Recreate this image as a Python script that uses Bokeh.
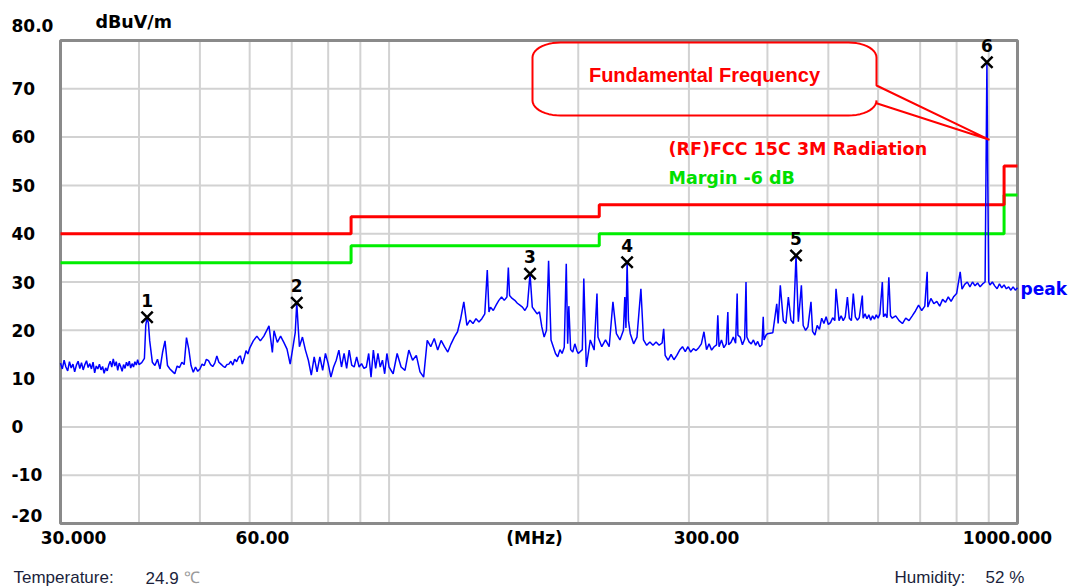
import numpy as np
from bokeh.plotting import figure
from bokeh.models import Label
from bokeh.embed import file_html
from bokeh.resources import INLINE

# ---------------- data (MHz, dBuV/m) ----------------
scan_30_40 = [
    (30.0, 13.2), (30.2, 12.0), (30.4, 13.8), (30.6, 12.4), (30.8, 11.6), (31.0, 13.5),
    (31.2, 12.2), (31.4, 13.0), (31.6, 11.4), (31.8, 12.8), (32.0, 13.6), (32.2, 12.1),
    (32.4, 13.3), (32.6, 11.8), (32.8, 12.9), (33.0, 13.7), (33.2, 12.3), (33.4, 13.1),
    (33.6, 12.0), (33.8, 13.4), (34.0, 11.2), (34.2, 12.6), (34.4, 12.0), (34.6, 13.0),
    (34.8, 11.8), (35.0, 12.5), (35.2, 11.1), (35.4, 12.2), (35.6, 11.6), (35.8, 12.8),
    (36.0, 13.6), (36.2, 12.4), (36.4, 14.1), (36.6, 12.6), (36.8, 13.5), (37.0, 11.7),
    (37.2, 13.2), (37.4, 12.5), (37.6, 11.5), (37.8, 12.9), (38.0, 12.1), (38.2, 13.4),
    (38.4, 12.6), (38.6, 13.6), (38.8, 12.2), (39.0, 13.1), (39.2, 12.4), (39.4, 13.5),
    (39.6, 12.8), (39.8, 13.9), (40.0, 12.9),
]
scan_40_60 = [
    (40.4, 13.3), (40.8, 14.2), (41.0, 21.0), (41.2, 22.7), (41.4, 21.5), (41.6, 17.8),
    (42.0, 13.4), (42.4, 12.7), (42.8, 14.0), (43.2, 12.0), (43.6, 15.4), (44.0, 17.8),
    (44.4, 12.7), (44.8, 12.0), (45.2, 11.5), (45.6, 11.0), (46.0, 12.6), (46.4, 12.3),
    (46.8, 13.4), (47.2, 12.9), (47.6, 18.5), (48.0, 16.1), (48.4, 12.7), (48.8, 11.3),
    (49.2, 12.4), (49.6, 11.5), (50.0, 12.0), (50.4, 13.0), (50.8, 12.7), (51.2, 14.0),
    (51.6, 13.7), (52.0, 12.9), (52.4, 12.5), (52.8, 13.2), (53.2, 14.7), (53.6, 13.4),
    (54.0, 13.0), (54.4, 12.6), (54.8, 12.3), (55.2, 12.9), (55.6, 13.0), (56.0, 13.6),
    (56.4, 12.8), (56.8, 14.0), (57.2, 13.5), (57.6, 14.4), (58.0, 14.7), (58.4, 13.0),
    (58.8, 14.2), (59.2, 15.8), (59.6, 15.1), (60.0, 16.3),
]
scan_60_100 = [
    (60.8, 17.8), (61.6, 18.8), (62.4, 17.8), (63.2, 18.8), (64.0, 20.2), (64.4, 20.9),
    (64.8, 18.2), (65.2, 15.4), (65.6, 19.9), (66.4, 17.5), (67.2, 18.8), (68.0, 17.5),
    (68.8, 16.1), (69.6, 13.0), (70.4, 17.0), (70.9, 19.5), (71.3, 25.7), (71.7, 20.3),
    (72.0, 16.6), (72.8, 18.6), (73.6, 15.9), (74.4, 13.8), (75.2, 10.7), (76.0, 14.5),
    (76.8, 11.4), (77.6, 14.5), (78.4, 11.7), (79.2, 15.2), (80.0, 13.1), (80.8, 10.3),
    (81.6, 12.4), (82.4, 13.8), (83.2, 15.9), (84.0, 12.4), (84.8, 15.2), (85.6, 12.1),
    (86.4, 15.9), (87.2, 12.8), (88.0, 12.4), (88.8, 14.5), (89.6, 12.4), (90.4, 13.1),
    (91.2, 12.1), (92.0, 12.4), (92.8, 15.2), (93.6, 10.3), (94.4, 15.9), (95.2, 12.1),
    (96.0, 15.2), (96.8, 12.4), (97.6, 13.8), (98.4, 11.0), (99.2, 15.2), (100.0, 12.4),
]
scan_100_200 = [
    (101.5, 11.0), (103.0, 15.2), (104.5, 12.4), (106.0, 11.7), (107.5, 15.9), (109.0, 13.8),
    (110.5, 14.8), (112.0, 11.4), (113.5, 10.3), (115.0, 17.9), (116.5, 16.6), (118.0, 18.3),
    (119.5, 15.9), (121.0, 17.9), (122.5, 16.6), (124.0, 15.5), (125.5, 17.2), (127.0, 18.6),
    (128.5, 19.7), (130.0, 22.4), (131.5, 25.9), (133.0, 21.0), (134.5, 22.1), (136.0, 21.4),
    (137.5, 22.4), (139.0, 21.7), (140.5, 22.4), (142.0, 23.4), (143.3, 32.5), (144.2, 23.8),
    (145.0, 24.8), (146.5, 24.1), (148.0, 25.2), (149.5, 26.2), (151.0, 26.9), (152.5, 26.2),
    (154.0, 26.9), (154.8, 33.0), (155.5, 27.2), (157.0, 26.6), (158.5, 26.2), (160.0, 25.6),
    (161.5, 25.2), (163.0, 24.8), (164.5, 24.1), (166.0, 25.0), (167.6, 31.7), (169.0, 24.8),
    (170.5, 24.1), (172.0, 23.4), (173.5, 23.8), (175.0, 20.7), (176.5, 18.6), (178.0, 20.0),
    (179.4, 34.4), (181.0, 18.0), (182.5, 16.6), (184.0, 15.2), (185.5, 14.5), (187.0, 16.0),
    (188.5, 15.2), (190.0, 16.5), (191.4, 33.8), (192.4, 17.2), (193.2, 25.0), (194.5, 16.0),
    (196.0, 15.5), (197.5, 17.2), (199.0, 15.8), (200.0, 15.2),
]
scan_200_400 = [
    (203, 16.0), (204.1, 30.7), (206, 12.4), (209, 18.0), (212, 15.9), (214.2, 27.6),
    (215, 18.6), (218, 16.6), (221, 18.0), (224, 16.6), (227.1, 25.9), (230, 19.3),
    (233, 18.0), (236, 20.0), (237.2, 26.9), (238.2, 20.5), (239.2, 34.1), (240.4, 22.0),
    (242, 19.3), (245, 17.2), (248, 18.6), (251.6, 28.6), (254, 18.0), (257, 16.9),
    (260, 17.6), (263, 16.9), (266, 17.6), (269, 16.9), (272, 17.4), (273.5, 20.3),
    (275, 14.8), (278, 13.8), (281, 15.0), (284, 13.9), (287, 14.8), (290, 15.9),
    (293, 16.6), (296, 15.6), (299, 16.6), (302, 15.5), (305, 16.2), (308, 15.8),
    (311, 16.4), (314, 17.2), (317, 19.7), (320, 16.0), (323, 17.2), (326, 15.9),
    (329, 16.6), (332, 17.0), (333.5, 23.1), (335, 16.6), (338, 18.0), (341, 16.4),
    (344, 17.2), (346, 23.8), (347, 17.0), (350, 17.5), (353, 18.6), (356, 17.3),
    (358, 27.6), (359, 19.0), (362, 18.6), (365, 17.0), (368, 18.2), (369.8, 30.0),
    (371, 18.6), (374, 17.6), (377, 17.2), (380, 18.0), (383, 16.9), (386, 17.7),
    (389, 16.6), (392, 17.0), (393.9, 22.8), (395, 18.0), (398, 19.0), (400, 19.3),
]
scan_400_1000 = [
    (408, 19.5), (413.9, 25.5), (416, 21.4), (419.3, 29.3), (424, 22.0), (428, 21.4),
    (431.9, 26.9), (436, 22.1), (440, 21.4), (444.2, 35.5), (448, 21.8), (453, 29.3),
    (456, 21.0), (460, 20.0), (464, 20.7), (469.2, 25.9), (472, 19.8), (476, 19.0),
    (480, 21.0), (484, 20.2), (488, 22.5), (492, 21.4), (496, 22.8), (500, 21.2),
    (504, 21.6), (508, 22.6), (512, 22.0), (514.3, 28.6), (520, 22.0), (524, 23.0),
    (528, 22.0), (532, 22.8), (536.2, 26.9), (540, 22.5), (544, 22.0), (547.9, 27.6),
    (552, 22.8), (556, 22.1), (560, 22.6), (566.3, 27.2), (568, 22.5), (572, 23.4),
    (576, 22.4), (580, 23.2), (584, 22.1), (588, 23.0), (592, 22.3), (596, 23.2),
    (600, 22.5), (604, 23.4), (609.4, 30.0), (612, 22.8), (616, 23.4), (620, 22.6),
    (624.1, 31.0), (628, 23.0), (632, 22.5), (640, 23.0), (648, 22.0), (656, 21.4),
    (664, 22.5), (672, 22.0), (680, 23.0), (688, 24.0), (696, 25.2), (704, 24.1),
    (712, 25.0), (718.2, 32.1), (720, 24.8), (728, 26.6), (736, 25.5), (744, 26.0),
    (752, 25.0), (760, 26.4), (768, 25.8), (776, 26.9), (784, 26.0), (792, 27.0),
    (800, 27.6), (810.6, 32.1), (816, 28.5), (824, 29.5), (832, 30.0), (840, 29.0),
    (848, 30.0), (856, 29.2), (864, 29.8), (872, 29.0), (880, 29.6), (888, 30.0),
    (894.0, 75.5), (896.6, 52.4), (900, 30.0), (904, 29.4), (912, 30.0), (920, 29.2),
    (928, 28.6), (936, 29.6), (944, 28.8), (952, 29.4), (960, 28.6), (968, 29.0),
    (976, 28.3), (984, 29.0), (992, 28.3), (1000, 28.8),
]
limit_mhz = [30, 87, 216, 952, 1000]
limit_dbuv = [40, 43.5, 46, 54, 54]
margin_dbuv = [34, 37.5, 40, 48, 48]
marker_mhz = [41.2, 71.3, 167.6, 239.2, 444.2, 894.0]
marker_dbuv = [22.7, 25.7, 31.7, 34.1, 35.5, 75.5]
marker_ids = ["1", "2", "3", "4", "5", "6"]
y_tick_labels = ["80.0", "70", "60", "50", "40", "30", "20", "10", "0", "-10", "-20"]
x_tick_labels = ["30.000", "60.00", "(MHz)", "300.00", "1000.000"]
x_grid_mhz = [40, 50, 60, 70, 80, 90, 100, 200, 300, 400, 500, 600, 700, 800, 900]
y_grid_dbuv = [-10, 0, 10, 20, 30, 40, 50, 60, 70]

scan = scan_30_40 + scan_40_60 + scan_60_100 + scan_100_200 + scan_200_400 + scan_400_1000
trace_mhz = [f for f, _ in scan]
trace_dbuv = [v for _, v in scan]

# ---------------- layout (canvas pixels) ----------------
X0, X1 = 30, 1000          # chart box, MHz
Y0, Y1 = -20, 80           # chart box, dBuV/m
W, H = 1068, 588
FL, FT, FR, FB = 60, 40, 1017, 523   # chart box edges in pixels


def fx(px):
    return X0 * (X1 / X0) ** ((px - FL) / (FR - FL))


def fy(py):
    return Y1 - (py - FT) * (Y1 - Y0) / (FB - FT)


# the whole canvas is the frame, so every text stays inside it
p = figure(width=W, height=H, x_axis_type="log", x_range=(fx(0), fx(W)),
           y_range=(fy(H), fy(0)), output_backend="svg", toolbar_location=None,
           title=None, min_border=0)
p.xaxis.visible = False
p.yaxis.visible = False
p.grid.visible = False
p.outline_line_color = None
p.background_fill_color = "white"
p.border_fill_color = "white"

# grid inside the chart box
GRID = "#d2d2d2"
p.segment(x0=x_grid_mhz, y0=[Y0] * len(x_grid_mhz), x1=x_grid_mhz, y1=[Y1] * len(x_grid_mhz),
          line_color=GRID, line_width=2)
p.segment(x0=[X0] * len(y_grid_dbuv), y0=y_grid_dbuv, x1=[X1] * len(y_grid_dbuv), y1=y_grid_dbuv,
          line_color=GRID, line_width=2)
p.quad(left=[X0], right=[X1], bottom=[Y0], top=[Y1], fill_color=None,
       line_color="#8a8a8a", line_width=3)

p.step(limit_mhz, margin_dbuv, mode="after", line_color="#00ee00", line_width=3)
p.step(limit_mhz, limit_dbuv, mode="after", line_color="#ff0000", line_width=3)
p.line(trace_mhz, trace_dbuv, line_color="#0000ff", line_width=1.5)
p.scatter(marker_mhz, marker_dbuv, marker="x", size=16, line_color="black", line_width=2.5)

BOLD = "DejaVu Sans"


def lab(px, py, text, size="17px", color="black", align="left", style="bold", font=BOLD):
    p.add_layout(Label(x=fx(px), y=fy(py), text=text, text_font=font, text_font_size=size,
                       text_font_style=style, text_color=color, text_align=align,
                       text_baseline="middle"))


# marker numbers
dy = 17 * (Y1 - Y0) / (FB - FT)
for m, v, t in zip(marker_mhz, marker_dbuv, marker_ids):
    p.add_layout(Label(x=m, y=v + dy, text=t, text_font=BOLD, text_font_size="17px",
                       text_font_style="bold", text_color="black", text_align="center",
                       text_baseline="middle"))

# y tick labels
y_label_py = [25, 88, 136, 185, 233, 282, 330, 378, 426, 474, 515]
for py, t in zip(y_label_py, y_tick_labels):
    lab(11, py, t)
lab(95, 21, "dBuV/m", size="17.5px")

# x tick labels
x_label_px = [73, 262, 534, 706, 1007]
for px, t in zip(x_label_px, x_tick_labels):
    lab(px, 537, t, align="center")

# legend-like texts
lab(668, 148, "(RF)FCC 15C 3M Radiation", size="17.5px", color="#ff0000")
lab(668, 177, "Margin -6 dB", size="17.5px", color="#00e000")
lab(1020, 288, "peak", color="#0000ff")

# callout
lab(704, 74, "Fundamental Frequency", size="20px", color="#ff0000", align="center",
    font="Liberation Sans")
BX0, BX1, BY0, BY1, RX, RY = 532, 876, 42, 115, 28, 15
TAIL_A, TAIL_B, TIP = 85, 102.7, (989, 139.3)


def arc(cx, cy, a0, a1):
    t = np.radians(np.linspace(a0, a1, 12))
    return list(cx + RX * np.cos(t)), list(cy - RY * np.sin(t))


sx, sy = [TIP[0], BX1], [TIP[1], TAIL_A]
for cx, cy, a0, a1 in [(BX1 - RX, BY0 + RY, 0, 90), (BX0 + RX, BY0 + RY, 90, 180),
                       (BX0 + RX, BY1 - RY, 180, 270), (BX1 - RX, BY1 - RY, 270, 360)]:
    ax, ay = arc(cx, cy, a0, a1)
    sx += ax
    sy += ay
sx += [BX1, TIP[0]]
sy += [TAIL_B, TIP[1]]
p.line([fx(v) for v in sx], [fy(v) for v in sy], line_color="#ff0000", line_width=2)

# footer
REG = "Liberation Sans"
lab(13, 577, "Temperature:", color="#1b1f3b", style="normal", font=REG)
lab(145, 577, "24.9", color="#1b1f3b", style="normal", font=REG)
lab(183, 577, "\u2103", color="#9a9a9a", style="normal", font=REG, size="16px")
lab(894, 577, "Humidity:", color="#1b1f3b", style="normal", font=REG)
lab(985, 577, "52 %", color="#1b1f3b", style="normal", font=REG)

open("out.html", "w").write(file_html(p, INLINE))
